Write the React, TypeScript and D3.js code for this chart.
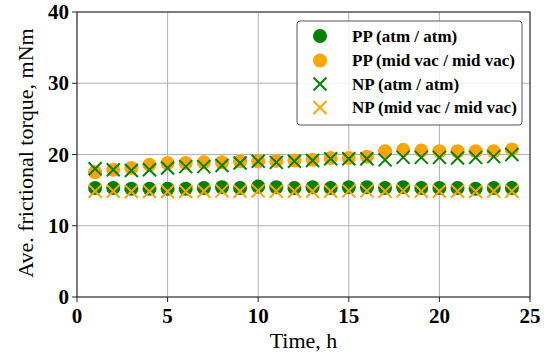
import React from 'react';
import * as d3 from 'd3';

const hours = [1, 2, 3, 4, 5, 6, 7, 8, 9, 10, 11, 12, 13, 14, 15, 16, 17, 18, 19, 20, 21, 22, 23, 24];
const ppAtm = [15.3, 15.3, 15.2, 15.2, 15.2, 15.2, 15.3, 15.4, 15.3, 15.5, 15.4, 15.3, 15.4, 15.3, 15.4, 15.4, 15.3, 15.4, 15.3, 15.3, 15.3, 15.2, 15.3, 15.3];
const ppMidVac = [17.5, 17.85, 18.1, 18.55, 18.8, 18.8, 18.9, 18.9, 19.05, 19.05, 19.1, 19.15, 19.25, 19.5, 19.5, 19.7, 20.45, 20.65, 20.55, 20.45, 20.45, 20.45, 20.45, 20.7];
const npAtm = [18.0, 17.85, 17.75, 17.85, 18.1, 18.3, 18.3, 18.45, 18.8, 19.05, 18.9, 19.05, 19.15, 19.4, 19.4, 19.4, 19.25, 19.6, 19.6, 19.6, 19.5, 19.6, 19.7, 20.0];
const npMidVac = [14.85, 14.85, 14.8, 14.8, 14.8, 14.8, 14.85, 14.9, 14.85, 14.9, 14.85, 14.85, 14.85, 14.85, 14.9, 14.9, 14.85, 14.9, 14.85, 14.85, 14.85, 14.8, 14.85, 14.85];

const xTicks = [0, 5, 10, 15, 20, 25];
const yTicks = [0, 10, 20, 30, 40];

const seriesList = [
  { name: 'PP (atm / atm)', values: ppAtm, color: 'green', marker: 'circle' },
  { name: 'PP (mid vac / mid vac)', values: ppMidVac, color: 'orange', marker: 'circle' },
  { name: 'NP (atm / atm)', values: npAtm, color: 'green', marker: 'x' },
  { name: 'NP (mid vac / mid vac)', values: npMidVac, color: 'orange', marker: 'x' },
];

const width = 550;
const height = 355;
const margin = { top: 12, right: 20, bottom: 58, left: 77 };
const serif = { fontFamily: "'Liberation Serif', 'Times New Roman', serif" };

const Marker = ({ x, y, type, color }: { x: number; y: number; type: string; color: string }) => {
  if (type === 'circle') return <circle cx={x} cy={y} r={7} fill={color} />;
  const s = 6.5;
  return (
    <path
      d={`M${x - s},${y - s}L${x + s},${y + s}M${x - s},${y + s}L${x + s},${y - s}`}
      stroke={color}
      strokeWidth={2}
      fill="none"
    />
  );
};

export default function App() {
  const innerW = width - margin.left - margin.right;
  const innerH = height - margin.top - margin.bottom;

  const x = d3.scaleLinear().domain([0, 25]).range([margin.left, margin.left + innerW]);
  const y = d3.scaleLinear().domain([0, 40]).range([margin.top + innerH, margin.top]);

  const legendX = 297;
  const legendY = 21;
  const rowY = [36, 60.5, 84, 107.5];

  return (
    <div style={{ position: 'absolute', left: 0, top: 0 }}>
      <svg width={width} height={height} style={{ display: 'block', background: '#fff' }}>
        {/* grid */}
        {xTicks.map(t => (
          <line key={'gx' + t} x1={x(t)} x2={x(t)} y1={y(0)} y2={y(40)} stroke="#b0b0b0" strokeWidth={1} />
        ))}
        {yTicks.map(t => (
          <line key={'gy' + t} x1={x(0)} x2={x(25)} y1={y(t)} y2={y(t)} stroke="#b0b0b0" strokeWidth={1} />
        ))}

        {/* marks */}
        {seriesList.map(s => (
          <g key={s.name}>
            {hours.map((h, i) => (
              <Marker key={h} x={x(h)} y={y(s.values[i])} type={s.marker} color={s.color} />
            ))}
          </g>
        ))}

        {/* frame */}
        <rect x={x(0)} y={y(40)} width={innerW} height={innerH} fill="none" stroke="#222" strokeWidth={1} />

        {/* ticks */}
        {xTicks.map(t => (
          <g key={'tx' + t}>
            <line x1={x(t)} x2={x(t)} y1={y(0)} y2={y(0) + 5} stroke="#222" />
            <text x={x(t)} y={y(0) + 26} textAnchor="middle" fontSize={21} fontWeight="bold" style={serif}>{t}</text>
          </g>
        ))}
        {yTicks.map(t => (
          <g key={'ty' + t}>
            <line x1={x(0) - 5} x2={x(0)} y1={y(t)} y2={y(t)} stroke="#222" />
            <text x={x(0) - 8} y={y(t) + 7} textAnchor="end" fontSize={21} fontWeight="bold" style={serif}>{t}</text>
          </g>
        ))}

        {/* axis titles */}
        <text x={x(12.5)} y={348} textAnchor="middle" fontSize={22} style={serif}>Time, h</text>
        <text
          transform={`translate(33,${y(20.2)}) rotate(-90)`}
          textAnchor="middle"
          fontSize={22}
          style={serif}
        >
          Ave. frictional torque, mNm
        </text>

        {/* legend */}
        <rect x={legendX} y={legendY} width={225} height={104} rx={3} fill="#fff" fillOpacity={0.85} stroke="#555" strokeWidth={1} />
        {seriesList.map((s, i) => (
          <g key={'lg' + s.name}>
            <Marker x={legendX + 23} y={rowY[i]} type={s.marker} color={s.color} />
            <text x={legendX + 55} y={rowY[i] + 5.5} fontSize={17} fontWeight="bold" style={serif}>{s.name}</text>
          </g>
        ))}
      </svg>
    </div>
  );
}
